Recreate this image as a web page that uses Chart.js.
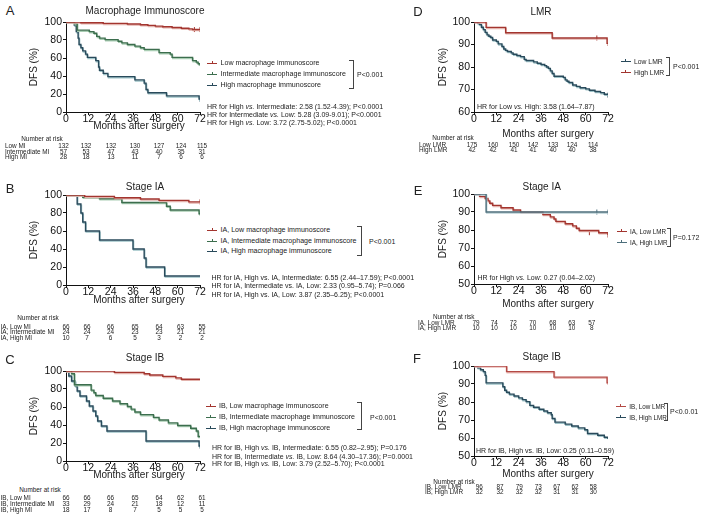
<!DOCTYPE html>
<html><head><meta charset="utf-8">
<script src="https://cdn.jsdelivr.net/npm/chart.js@4/dist/chart.umd.min.js"></script>
<style>
html,body{margin:0;padding:0;background:#fff;}
#root{position:relative;width:703px;height:518px;overflow:hidden;font-family:"Liberation Sans",Arial,Helvetica,sans-serif;color:#222;}
.t{position:absolute;white-space:nowrap;line-height:1;}
canvas{position:absolute;}
.br{position:absolute;border:1px solid #444;border-left:none;box-sizing:border-box;}
.sw{position:absolute;}
</style></head><body><div id="root"></div>
<script>
// ---------- data ----------
const monthTicks = [0, 12, 24, 36, 48, 60, 72];
const yTicksPct = [0, 20, 40, 60, 80, 100];
const yTicksD = [60, 70, 80, 90, 100];
const yTicks50 = [50, 60, 70, 80, 90, 100];

// Panel A: Macrophage immunoscore
const aLowT = [0, 8, 20, 33, 40, 44, 48, 52, 57, 62, 66, 68, 72];
const aLowS = [100, 99.2, 98.5, 97.7, 97, 96.2, 95.4, 94.7, 93.9, 93.1, 92.4, 91.6, 91.6];
const aIntT = [0, 4.5, 6, 12.5, 15, 16.5, 18, 21, 28, 30, 33, 37, 40, 42, 50, 56, 57, 68, 70, 71, 72];
const aIntS = [100, 98.2, 91, 89.3, 87.5, 84, 82.1, 80.4, 78.6, 76.8, 75, 73.2, 71.4, 69.6, 66, 64.3, 60.7, 57.1, 55.4, 53.6, 51.8];
const aHighT = [0, 4.5, 5.5, 6.5, 7, 8, 9, 10.5, 11.5, 16, 17.5, 18, 20, 22.5, 37, 42, 43, 44, 54, 71.5, 72];
const aHighS = [100, 96.4, 89.3, 82.1, 75, 71.4, 67.9, 64.3, 60.7, 57.1, 50, 46.4, 42.9, 39.3, 35.7, 32.1, 25, 21.4, 17.9, 14.3, 14.3];
const aNarLow = [132, 132, 132, 130, 127, 124, 115];
const aNarInt = [57, 53, 47, 43, 40, 35, 31];
const aNarHigh = [28, 18, 13, 11, 7, 6, 6];

// Panel B: Stage IA, macrophage immunoscore
const bLowT = [0, 10, 26, 40, 50, 66, 72];
const bLowS = [100, 98.5, 97, 95.5, 94, 92.4, 92.4];
const bIntT = [0, 9, 18, 30, 54, 56, 71.5, 72];
const bIntS = [100, 97.5, 95.8, 91.7, 87.5, 83.3, 79.2, 79.2];
const bHighT = [0, 6, 8, 9, 10.5, 18, 36, 42, 43, 53, 72];
const bHighS = [100, 90, 80, 70, 60, 50, 40, 30, 20, 10, 10];
const bNarLow = [66, 66, 66, 65, 64, 63, 55];
const bNarInt = [24, 24, 24, 23, 23, 21, 21];
const bNarHigh = [10, 7, 6, 5, 3, 2, 2];

// Panel C: Stage IB, macrophage immunoscore
const cLowT = [0, 26, 42, 45, 52, 59, 62, 72];
const cLowS = [100, 98.5, 97, 95.5, 94, 92.4, 90.9, 90.9];
const cIntT = [0, 3, 4.5, 13.5, 15, 16, 20, 25, 29, 33, 35, 37, 40, 47, 50, 55, 60, 67, 70, 71, 72];
const cIntS = [100, 97, 84.8, 78.8, 75.8, 72.7, 69.7, 66.7, 63.6, 60.6, 57.6, 54.5, 51.5, 48.5, 45.5, 42.4, 39.4, 36.4, 33.3, 27.3, 27.3];
const cHighT = [0, 1.5, 3, 5, 6, 7.5, 11, 12.5, 14.5, 16, 17, 19, 22, 43, 71.5, 72];
const cHighS = [100, 94.4, 88.9, 83.3, 77.8, 72.2, 66.7, 61.1, 55.6, 50, 44.4, 38.9, 33.3, 22.2, 16.7, 16.7];
const cNarLow = [66, 66, 66, 65, 64, 62, 61];
const cNarInt = [33, 29, 24, 21, 18, 12, 11];
const cNarHigh = [18, 17, 8, 7, 5, 5, 5];

// Panel D: LMR
const dLowT = [0, 2, 3, 4, 5, 6, 7, 8, 9, 10, 12, 13, 15, 16, 17, 18, 20, 21, 23, 25, 27, 28, 32, 34, 36, 38, 39, 40, 41, 42, 43, 48, 49, 50, 51, 53, 55, 57, 60, 62, 65, 68, 70, 72];
const dLowS = [100, 99.4, 98.9, 97.7, 96.6, 95.4, 94.3, 93.7, 93.1, 92, 91.4, 90.3, 89.1, 88, 87.4, 86.9, 86.3, 85.7, 85.1, 84.6, 83.4, 82.9, 82.3, 81.7, 81.1, 80.6, 80, 79.4, 78.3, 77.1, 75.9, 75.4, 74.3, 73.7, 73.1, 72, 71.4, 70.8, 70.3, 69.7, 69.1, 68.6, 67.9, 67.5];
const dHighT = [0, 6.5, 17, 42, 71.5, 72];
const dHighS = [100, 97.6, 95.2, 92.9, 90.5, 90.5];
const dNarLow = [175, 160, 150, 142, 133, 124, 114];
const dNarHigh = [42, 42, 41, 41, 40, 40, 38];

// Panel E: Stage IA, LMR
const eLowT = [0, 3, 6, 7.5, 8.5, 10, 14.5, 21, 25, 37, 41, 43, 44, 49, 53, 55, 56.5, 67, 72];
const eLowS = [100, 98.7, 97.5, 96.2, 94.9, 93.7, 92.4, 91.1, 89.9, 88.6, 87.3, 86.1, 84.8, 83.5, 82.3, 81, 79.7, 78.5, 77.2];
const eHighT = [0, 6.5, 72];
const eHighS = [100, 90, 90];
const eNarLow = [79, 74, 72, 70, 68, 63, 57];
const eNarHigh = [10, 10, 10, 10, 10, 10, 8];

// Panel F: Stage IB, LMR
const fLowT = [0, 17.5, 43, 71.5, 72];
const fLowS = [100, 96.9, 93.8, 90.6, 90.6];
const fHighT = [0, 2, 3.5, 5, 6, 6.5, 15.5, 16.5, 17.5, 19, 21.5, 24, 26, 28, 30, 32, 35, 37.5, 39.5, 41.5, 42, 43.5, 49, 52.5, 56, 59.5, 61, 66.5, 70, 72];
const fHighS = [100, 99, 97.9, 96.9, 94.8, 90.6, 88.5, 86.5, 85.4, 84.4, 83.3, 82.3, 81.3, 80.2, 78.1, 77.1, 76, 75, 74, 72.9, 70.8, 68.8, 67.7, 66.7, 65.6, 64.6, 62.5, 61.5, 60.4, 59.4];
const fNarLow = [96, 87, 79, 73, 67, 62, 58];
const fNarHigh = [32, 32, 32, 32, 31, 31, 30];

// censoring marks
const aLowCensT = [69, 72], aLowCensS = [91.6, 91.6];
const aHighCensT = [72], aHighCensS = [14.3];
const bLowCensT = [72], bLowCensS = [92.4];
const cHighCensT = [72], cHighCensS = [16.7];
const dHighCensT = [66, 72], dHighCensS = [92.9, 90.5];
const dLowCensT = [72], dLowCensS = [67.5];
const eHighCensT = [66, 72], eHighCensS = [90, 90];
const eLowCensT = [62, 72], eLowCensS = [78.5, 77.2];

// ---------- styles ----------
const RED = '#a3352f', GREEN = '#3c6e4e', NAVY = '#294a5b', SLATE = '#4d6f7c', RED2 = '#b44a45';
const SHADE = { '#a3352f': '#e3b3ad', '#3c6e4e': '#a9cdb3', '#294a5b': '#9fc3c8', '#4d6f7c': '#b9d0d5', '#b44a45': '#ebbdb9' };
const FONT = '"Liberation Sans", Arial, Helvetica, sans-serif';
const root = document.getElementById('root');

function txt(x, y, html, size, align, extra) {
  const d = document.createElement('div');
  d.className = 't';
  d.innerHTML = html;
  d.style.left = x + 'px';
  d.style.top = y + 'px';
  d.style.fontSize = size + 'px';
  const ax = align === 'center' ? '-50%' : align === 'right' ? '-100%' : '0';
  d.style.transform = 'translate(' + ax + ',-50%)' + (extra && extra.rotate ? ' rotate(' + extra.rotate + 'deg)' : '');
  if (extra && extra.color) d.style.color = extra.color;
  root.appendChild(d);
  return d;
}
function legendRow(xText, y, color, label, size) {
  const yy = Math.round(y);
  const l = document.createElement('div');
  l.className = 'sw';
  l.style.cssText = 'left:' + Math.round(xText - 13.5) + 'px;top:' + yy + 'px;width:10px;height:1px;background:' + color;
  root.appendChild(l);
  const k = document.createElement('div');
  k.className = 'sw';
  k.style.cssText = 'left:' + Math.round(xText - 9) + 'px;top:' + (yy - 2) + 'px;width:1px;height:3px;background:' + color;
  root.appendChild(k);
  txt(xText, yy + 0.5, label, size || 7.1, 'left');
}
function bracket(x1, x2, y1, y2) {
  const b = document.createElement('div');
  b.className = 'br';
  b.style.left = x1 + 'px'; b.style.top = y1 + 'px';
  b.style.width = (x2 - x1) + 'px'; b.style.height = (y2 - y1) + 'px';
  root.appendChild(b);
}
function nar(labelX, y, label, values, cols) {
  txt(labelX, y, label, 6.4, 'left');
  values.forEach((v, i) => txt(cols[i], y, String(v), 6.4, 'center'));
}
function pts(T, S) { return T.map((t, i) => ({ x: t, y: S[i] })); }

const shadePlugin = {
  id: 'shade',
  beforeDatasetDraw(chart, args) {
    const ds = chart.data.datasets[args.index];
    if (ds.showLine === false) return;
    const ctx = chart.ctx;
    ctx.save();
    ctx.shadowColor = SHADE[ds.borderColor] || 'rgba(0,0,0,0)';
    ctx.shadowOffsetX = 0.6;
    ctx.shadowOffsetY = 1.1;
    ctx.shadowBlur = 0;
  },
  afterDatasetDraw(chart, args) {
    const ds = chart.data.datasets[args.index];
    if (ds.showLine === false) return;
    chart.ctx.restore();
  }
};

function km(left, plotTop, yMin, yMax, yTicks, series) {
  const W = 190, H = 122;
  const c = document.createElement('canvas');
  c.width = W; c.height = H;
  c.style.left = left + 'px'; c.style.top = (plotTop - 10) + 'px';
  c.style.width = W + 'px'; c.style.height = H + 'px';
  root.appendChild(c);
  const datasets = [];
  series.forEach(se => {
    datasets.push({ data: pts(se.t, se.s), borderColor: se.color, borderWidth: 1.4, stepped: true,
      pointRadius: 0, fill: false, tension: 0 });
    if (se.ct) datasets.push({ data: pts(se.ct, se.cs), showLine: false, pointStyle: 'line',
      rotation: 90, pointRadius: 2.5, borderColor: se.color, borderWidth: 1, pointBorderColor: se.color });
  });
  const axisCommon = {
    grid: { drawOnChartArea: false, drawTicks: true, tickLength: 3, color: '#111', lineWidth: 1 },
    border: { display: true, color: '#111', width: 1 },
  };
  new Chart(c, {
    type: 'line',
    data: { datasets },
    plugins: [shadePlugin],
    options: {
      responsive: false, animation: false, devicePixelRatio: 1,
      layout: { padding: { left: 0, right: 15, top: 10, bottom: 0 } },
      plugins: { legend: { display: false }, tooltip: { enabled: false } },
      scales: {
        x: Object.assign({
          type: 'linear', min: 0, max: 72,
          afterBuildTicks: s => { s.ticks = monthTicks.map(v => ({ value: v })); },
          afterFit: s => { s.height = 22; },
          ticks: { font: { family: FONT, size: 10.5 }, color: '#111', padding: -2, maxRotation: 0, autoSkip: false }
        }, axisCommon),
        y: Object.assign({
          type: 'linear', min: yMin, max: yMax,
          afterBuildTicks: s => { s.ticks = yTicks.map(v => ({ value: v })); },
          afterFit: s => { s.width = 41; },
          ticks: { font: { family: FONT, size: 10.5 }, color: '#111', padding: 1, autoSkip: false }
        }, axisCommon)
      }
    }
  });
}

// ---------- charts ----------
km(25, 22, 0, 100, yTicksPct, [
  { t: aLowT, s: aLowS, color: RED, ct: aLowCensT, cs: aLowCensS },
  { t: aIntT, s: aIntS, color: GREEN },
  { t: aHighT, s: aHighS, color: NAVY, ct: aHighCensT, cs: aHighCensS }
]);
km(25, 195, 0, 100, yTicksPct, [
  { t: bLowT, s: bLowS, color: RED, ct: bLowCensT, cs: bLowCensS },
  { t: bIntT, s: bIntS, color: GREEN },
  { t: bHighT, s: bHighS, color: NAVY }
]);
km(25, 371, 0, 100, yTicksPct, [
  { t: cLowT, s: cLowS, color: RED },
  { t: cIntT, s: cIntS, color: GREEN },
  { t: cHighT, s: cHighS, color: NAVY, ct: cHighCensT, cs: cHighCensS }
]);
km(433, 22, 60, 100, yTicksD, [
  { t: dHighT, s: dHighS, color: RED, ct: dHighCensT, cs: dHighCensS },
  { t: dLowT, s: dLowS, color: NAVY, ct: dLowCensT, cs: dLowCensS }
]);
km(433, 194, 50, 100, yTicks50, [
  { t: eHighT, s: eHighS, color: SLATE, ct: eHighCensT, cs: eHighCensS },
  { t: eLowT, s: eLowS, color: RED, ct: eLowCensT, cs: eLowCensS }
]);
km(433, 366, 50, 100, yTicks50, [
  { t: fLowT, s: fLowS, color: RED2 },
  { t: fHighT, s: fHighS, color: NAVY }
]);

// ---------- text: left column ----------
const colsA = [63.5, 86, 111, 135, 159, 181, 202];
const colsB = [66, 87, 110.5, 135, 159, 180.5, 202];

// A
txt(10, 10, 'A', 13, 'center');
txt(145, 11, 'Macrophage Immunoscore', 10, 'center');
txt(34, 67, 'DFS (%)', 10, 'center', { rotate: -90 });
txt(139, 126, 'Months after surgery', 10, 'center');
legendRow(220.5, 62.7, RED, 'Low macrophage immunoscore');
legendRow(220.5, 74, GREEN, 'Intermediate macrophage immunoscore');
legendRow(220.5, 84.7, NAVY, 'High macrophage immunoscore');
bracket(349, 354, 60, 89);
txt(357, 74, 'P&lt;0.001', 7, 'left');
txt(207, 106, 'HR for High <i>vs.</i> Intermediate: 2.58 (1.52-4.39); P&lt;0.0001', 7, 'left');
txt(207, 114, 'HR for Intermediate <i>vs.</i> Low: 5.28 (3.09-9.01); P&lt;0.0001', 7, 'left');
txt(207, 122, 'HR for High <i>vs.</i> Low: 3.72 (2.75-5.02); P&lt;0.0001', 7, 'left');
txt(42, 139, 'Number at risk', 6.4, 'center');
nar(5, 146, 'Low MI', aNarLow, colsA);
nar(5, 151.7, 'Intermediate MI', aNarInt, colsA);
nar(5, 157.3, 'High MI', aNarHigh, colsA);

// B
txt(10, 187.5, 'B', 13, 'center');
txt(145, 186.7, 'Stage IA', 10, 'center');
txt(34, 240, 'DFS (%)', 10, 'center', { rotate: -90 });
txt(139, 299.5, 'Months after surgery', 10, 'center');
legendRow(220.5, 230, RED, 'IA, Low macrophage immunoscore');
legendRow(220.5, 240.7, GREEN, 'IA, Intermediate macrophage immunoscore');
legendRow(220.5, 251.3, NAVY, 'IA, High macrophage immunoscore');
bracket(357, 362, 226, 256);
txt(369, 241, 'P&lt;0.001', 7, 'left');
txt(211.5, 276.7, 'HR for IA, High vs. IA, Intermediate: 6.55 (2.44–17.59); P&lt;0.0001', 7, 'left');
txt(211.5, 285.3, 'HR for IA, Intermediate vs. IA, Low: 2.33 (0.95–5.74); P=0.066', 7, 'left');
txt(211.5, 294, 'HR for IA, High vs. IA, Low: 3.87 (2.35–6.25); P&lt;0.0001', 7, 'left');
txt(38, 318, 'Number at risk', 6.4, 'center');
nar(0.5, 326.7, 'IA, Low MI', bNarLow, colsB);
nar(0.5, 332.3, 'IA, Intermediate MI', bNarInt, colsB);
nar(0.5, 337.7, 'IA, High MI', bNarHigh, colsB);

// C
txt(10, 359, 'C', 13, 'center');
txt(145, 357.5, 'Stage IB', 10, 'center');
txt(34, 416, 'DFS (%)', 10, 'center', { rotate: -90 });
txt(139, 475, 'Months after surgery', 10, 'center');
legendRow(219, 405.7, RED, 'IB, Low macrophage immunoscore');
legendRow(219, 417.3, GREEN, 'IB, Intermediate macrophage immunoscore');
legendRow(219, 428.3, NAVY, 'IB, High macrophage immunoscore');
bracket(357, 362, 402, 430);
txt(370, 416.7, 'P&lt;0.001', 7, 'left');
txt(212, 446.7, 'HR for IB, High <i>vs.</i> IB, Intermediate: 6.55 (0.82–2.95); P=0.176', 7, 'left');
txt(212, 455.7, 'HR for IB, Intermediate <i>vs.</i> IB, Low: 8.64 (4.30–17.36); P=0.0001', 7, 'left');
txt(212, 463.3, 'HR for IB, High <i>vs.</i> IB, Low: 3.79 (2.52–5.70); P&lt;0.0001', 7, 'left');
txt(40, 490, 'Number at risk', 6.4, 'center');
nar(0.5, 498.3, 'IB, Low MI', cNarLow, colsB);
nar(0.5, 504, 'IB, Intermediate MI', cNarInt, colsB);
nar(0.5, 509.7, 'IB, High MI', cNarHigh, colsB);

// ---------- text: right column ----------
const colsD = [472, 493, 514, 533, 553, 572, 593];
const colsE = [476, 494.3, 513.3, 532.7, 552.7, 571.7, 591.7];
const colsF = [479.3, 500, 519.3, 538.3, 556.7, 575, 593.3];
// D
txt(418, 11, 'D', 13, 'center');
txt(541, 11.7, 'LMR', 10, 'center');
txt(443, 67, 'DFS (%)', 10, 'center', { rotate: -90 });
txt(548, 133.5, 'Months after surgery', 10, 'center');
legendRow(634, 61, NAVY, 'Low LMR', 6.8);
legendRow(634, 71.7, RED, 'High LMR', 6.8);
bracket(666, 670, 57, 76);
txt(673, 65.7, 'P&lt;0.001', 7, 'left');
txt(477, 106, 'HR for Low <i>vs.</i> High: 3.58 (1.64–7.87)', 7, 'left');
txt(453, 137.7, 'Number at risk', 6.4, 'center');
nar(419, 145.3, 'Low LMR', dNarLow, colsD);
nar(419, 150, 'High LMR', dNarHigh, colsD);

// E
txt(418, 189.5, 'E', 13, 'center');
txt(541.7, 187.3, 'Stage IA', 10, 'center');
txt(443, 239, 'DFS (%)', 10, 'center', { rotate: -90 });
txt(548, 304, 'Months after surgery', 10, 'center');
legendRow(630, 231, RED, 'IA, Low LMR', 6.3);
legendRow(630, 241.7, SLATE, 'IA, High LMR', 6.3);
bracket(667, 671, 228, 247);
txt(673, 236.7, 'P=0.172', 7, 'left');
txt(477.5, 277.3, 'HR for High <i>vs.</i> Low: 0.27 (0.04–2.02)', 7, 'left');
txt(453.7, 316.7, 'Number at risk', 6.4, 'center');
nar(418, 323.3, 'IA, Low LMR', eNarLow, colsE);
nar(418, 328.3, 'IA, High LMR', eNarHigh, colsE);

// F
txt(417, 358, 'F', 13, 'center');
txt(541.7, 356.7, 'Stage IB', 10, 'center');
txt(443, 411, 'DFS (%)', 10, 'center', { rotate: -90 });
txt(548, 474, 'Months after surgery', 10, 'center');
legendRow(629.3, 406, RED2, 'IB, Low LMR', 6.3);
legendRow(629.3, 417, NAVY, 'IB, High LMR', 6.3);
bracket(664, 668, 403, 421);
txt(670, 411, 'P&lt;0.0.01', 7, 'left');
txt(476, 450, 'HR for IB, High vs. IB, Low: 0.25 (0.11–0.59)', 7, 'left');
txt(454, 481.5, 'Number at risk', 6.4, 'center');
nar(425, 486.5, 'IB, Low LMR', fNarLow, colsF);
nar(425, 491.7, 'IB, High LMR', fNarHigh, colsF);
</script>
</body></html>
